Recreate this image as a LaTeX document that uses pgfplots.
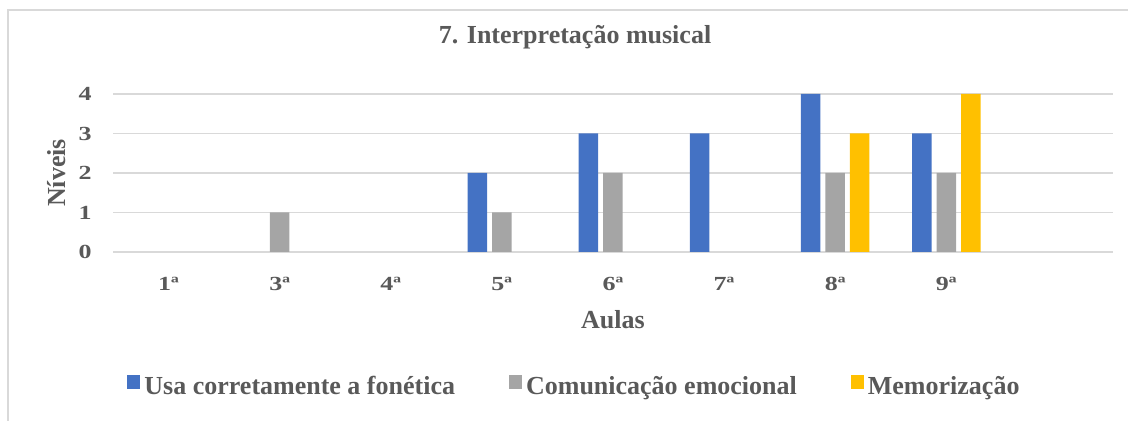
\documentclass[border=0pt]{standalone}
\usepackage{fontspec}
\setmainfont{Liberation Serif}
\newfontfamily\tickfont{Liberation Serif}[FakeStretch=1.3]
\usepackage{pgfplots}
\pgfplotsset{compat=1.18}
\definecolor{cblue}{HTML}{4472C4}
\definecolor{cgray}{HTML}{A5A5A5}
\definecolor{cyell}{HTML}{FFC000}
\definecolor{txt}{HTML}{595959}
\definecolor{gridc}{HTML}{D9D9D9}
\begin{document}
\begin{tikzpicture}
\begin{axis}[
  at={(56.5pt,84.5pt)}, anchor=south west,
  scale only axis, width=500pt, height=79pt,
  ybar=2.5pt, bar width=9.75pt,
  xmin=-0.5, xmax=8.5, ymin=0, ymax=4,
  xtick={0,1,2,3,4,5,6,7},
  xticklabels={1ª,3ª,4ª,5ª,6ª,7ª,8ª,9ª},
  ytick={0,1,2,3,4},
  major tick length=0pt,
  axis line style={draw=none},
  xmajorgrids=false, ymajorgrids=true,
  major grid style={draw=gridc, line width=0.75pt},
  /pgf/number format/assume math mode=true,
  yticklabel style={font=\fontsize{10}{12}\tickfont\bfseries, text=txt, inner sep=0pt, anchor=east, xshift=-10.5pt},
  xticklabel style={font=\fontsize{10}{12}\tickfont\bfseries, text=txt, inner sep=0pt, anchor=north, yshift=-12.5pt},
  ylabel={\textbf{Níveis}},
  ylabel style={font=\fontsize{13}{15}\selectfont, text=txt, at={(axis description cs:-0.056,0.5)}, anchor=center},
  xlabel={\textbf{Aulas}},
  xlabel style={font=\fontsize{13}{15}\selectfont, text=txt, at={(axis description cs:0.5,-0.43)}, anchor=center},
  title={\textbf{7. Interpretação musical}},
  title style={font=\fontsize{13}{15}\selectfont, text=txt, at={(axis description cs:0.462,1.2405)}, anchor=base},
  legend columns=-1,
  legend style={draw=none, fill=none, inner sep=0pt, font=\fontsize{13}{15}\selectfont\bfseries, text=txt,
    at={(axis description cs:0.014,-0.854)}, anchor=west,
    /tikz/every even column/.append style={column sep=25pt}},
  legend image code/.code={\fill[#1,draw=none] (0pt,-1pt) rectangle (6.5pt,6pt);},
  every axis plot/.append style={draw=none},
]
\addplot[fill=cblue] coordinates {(3,2) (4,3) (5,3) (6,4) (7,3)};
\addplot[fill=cgray] coordinates {(1,1) (3,1) (4,2) (6,2) (7,2)};
\addplot[fill=cyell] coordinates {(6,3) (7,4)};
\legend{Usa corretamente a fonética,Comunicação emocional,Memorização}
\end{axis}
\draw[gridc, line width=0.75pt] (4pt,0) -- (4pt,205.5pt) -- (564pt,205.5pt);
\pgfresetboundingbox
\path[use as bounding box] (0,0) rectangle (564pt,210.5pt);
\end{tikzpicture}
\end{document}
